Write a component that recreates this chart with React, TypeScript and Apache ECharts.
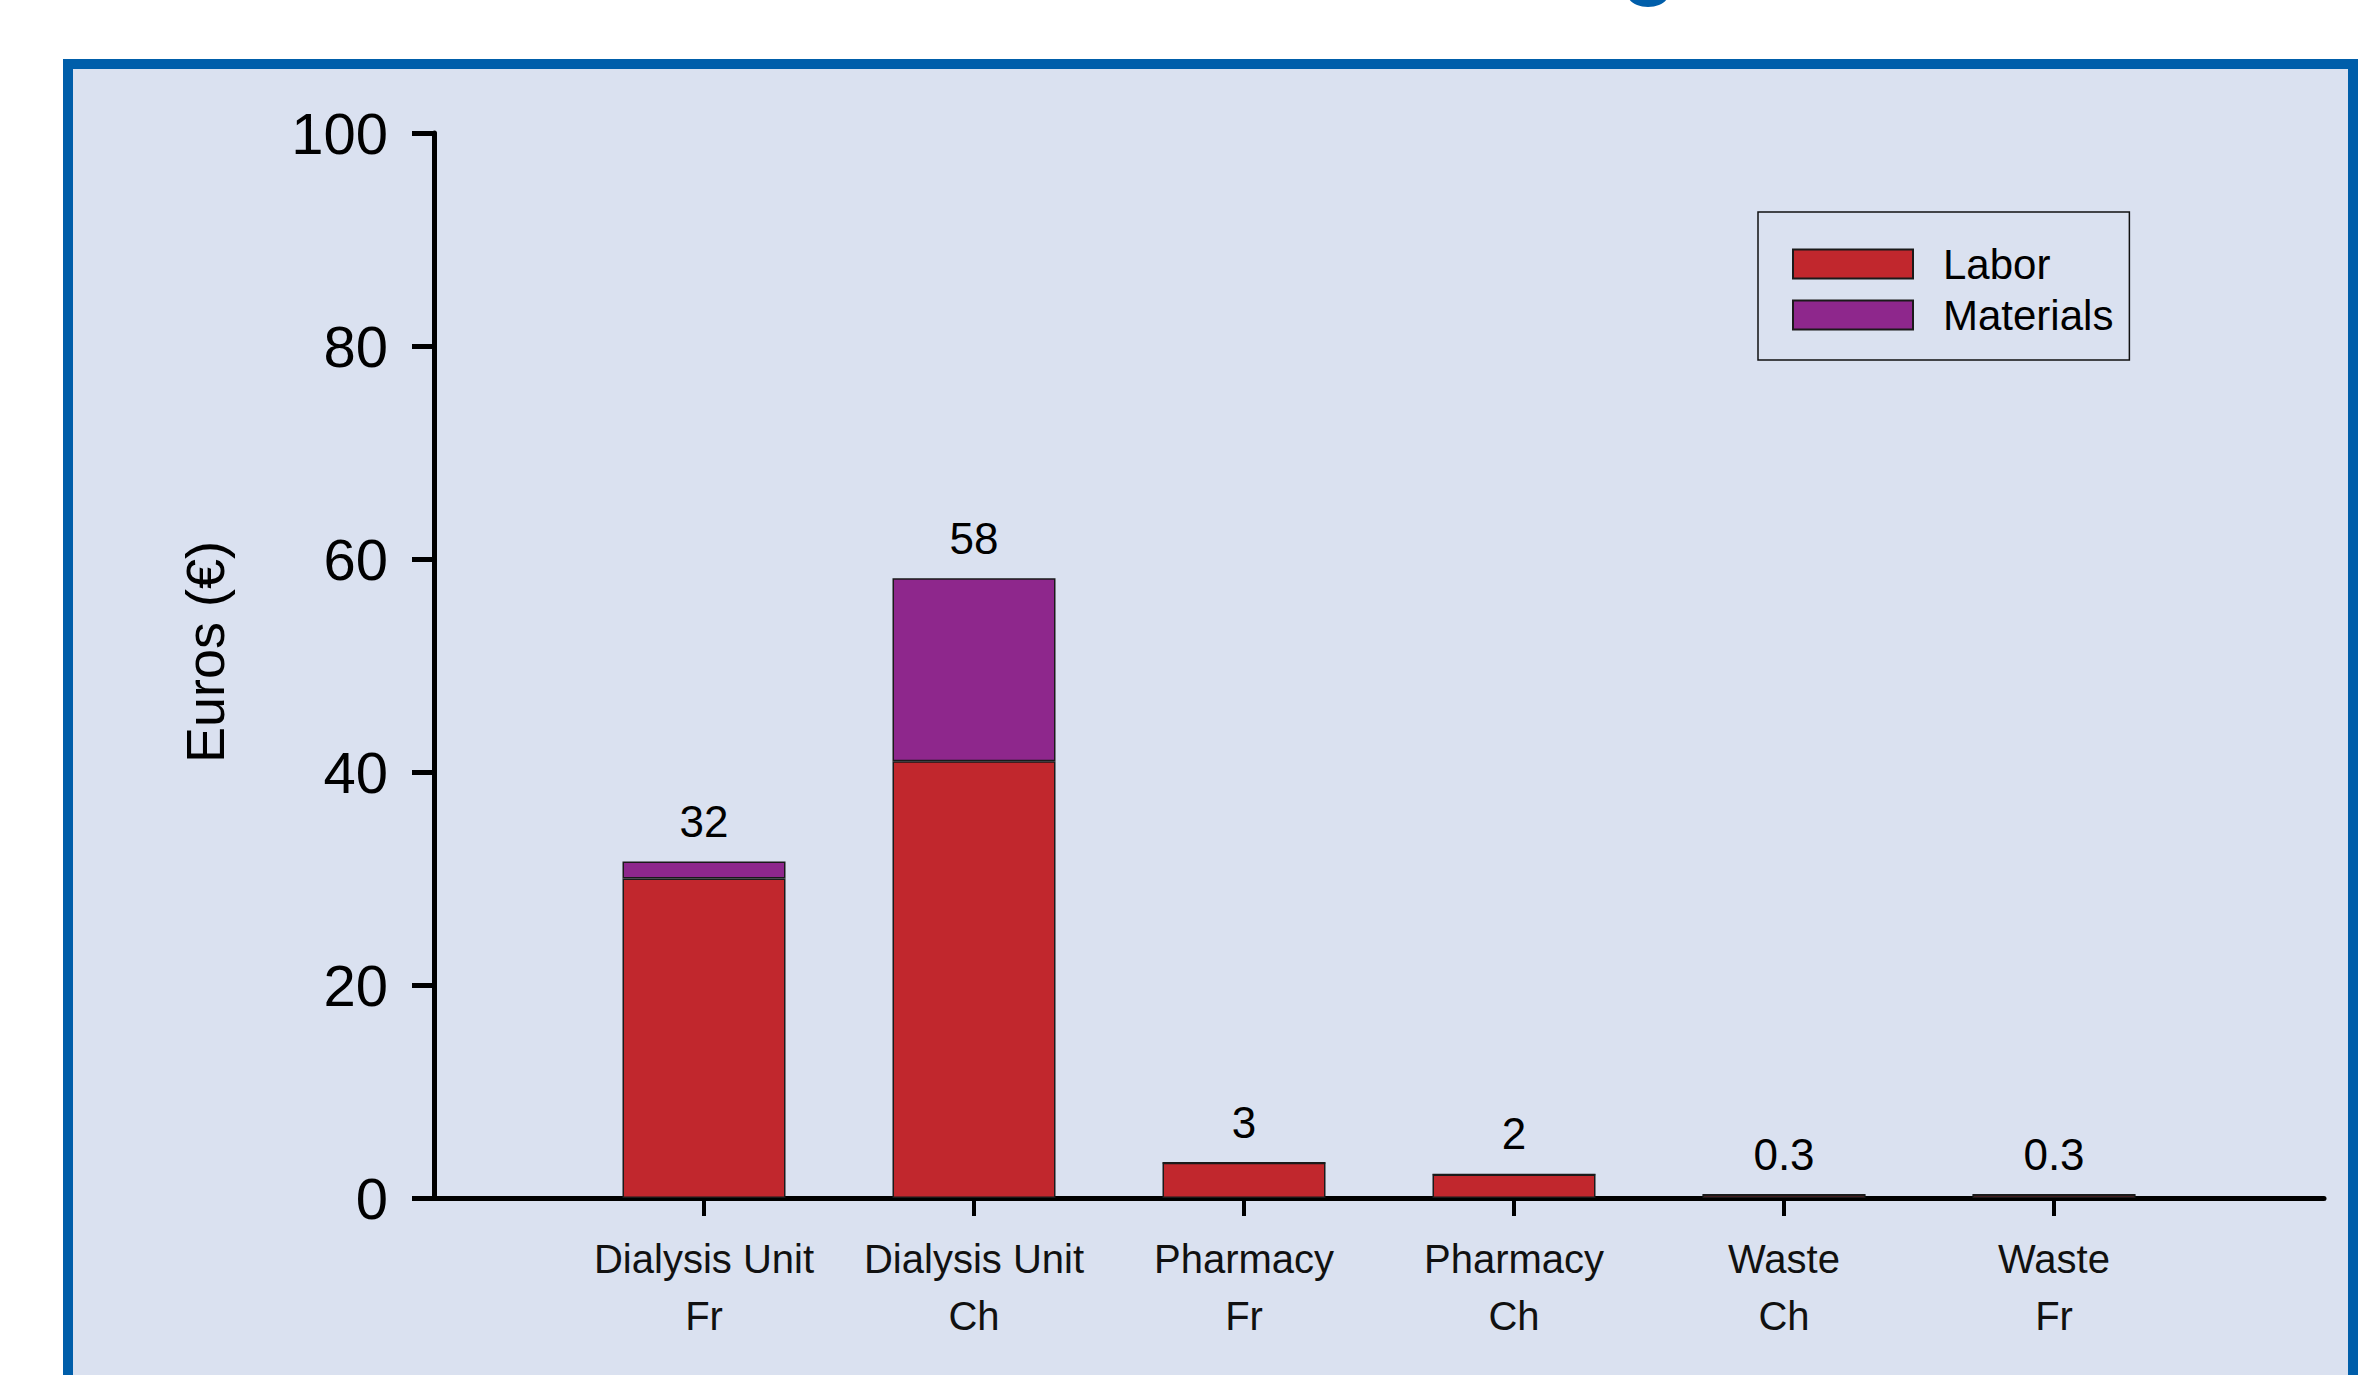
import React, { useEffect, useRef } from 'react';
import * as echarts from 'echarts';

const categories = ['Dialysis Unit\nFr', 'Dialysis Unit\nCh', 'Pharmacy\nFr', 'Pharmacy\nCh', 'Waste\nCh', 'Waste\nFr'];
const laborValues = [30, 41, 3.3, 2.2, 0.3, 0.3];
const materialsValues = [1.6, 17.2, 0, 0, 0, 0];
const totalLabels = ['32', '58', '3', '2', '0.3', '0.3'];
const seriesNames = ['Labor', 'Materials'];
const yAxisTitle = 'Euros (€)';

const FONT = "'Liberation Sans', Arial, sans-serif";
const RED = '#C1272D';
const PURPLE = '#8E278C';
const BLUE = '#005EAA';
const PANEL = '#DAE1F0';

export default function App() {
  const ref = useRef<HTMLDivElement>(null);
  useEffect(() => {
    document.body.style.margin = '0';
    const chart = echarts.init(ref.current!, null, { renderer: 'svg' });
    // one empty slot at each end so the axis runs half a gap past the outer bars
    const axisData = ['', ...categories, ''];
    const n = categories.length;
    chart.setOption({
      animation: false,
      backgroundColor: '#ffffff',
      textStyle: { fontFamily: FONT },
      graphic: [
        {
          type: 'rect',
          z: -100,
          silent: true,
          shape: { x: 68, y: 64, width: 2285, height: 1400 },
          style: { fill: PANEL, stroke: BLUE, lineWidth: 10 },
        },
        {
          type: 'ellipse',
          z: -50,
          silent: true,
          shape: { cx: 1648, cy: -5, rx: 20, ry: 12 },
          style: { fill: BLUE },
        },
        {
          type: 'text',
          x: 205,
          y: 652,
          rotation: Math.PI / 2,
          style: {
            text: yAxisTitle,
            fill: '#000',
            font: `54px ${FONT}`,
            align: 'center',
            verticalAlign: 'middle',
          },
        },
      ],
      legend: {
        left: 1758,
        top: 212,
        orient: 'vertical',
        data: seriesNames,
        icon: 'rect',
        itemWidth: 120,
        itemHeight: 29,
        itemGap: 9,
        padding: [31, 16, 24, 34],
        borderColor: '#111',
        borderWidth: 1.5,
        backgroundColor: 'transparent',
        textStyle: { fontSize: 42, lineHeight: 29, color: '#000', fontFamily: FONT, padding: [0, 0, 0, 25] },
      },
      grid: { left: 434, right: 38, top: 133, bottom: 177, containLabel: false },
      xAxis: {
        type: 'category',
        data: axisData,
        boundaryGap: false,
        splitLine: { show: false },
        axisLine: { show: true, onZero: true, lineStyle: { color: '#000', width: 5 } },
        axisTick: {
          show: true,
          interval: (idx: number) => idx > 0 && idx <= n,
          length: 18,
          lineStyle: { color: '#000', width: 4 },
        },
        axisLabel: {
          show: true,
          interval: 0,
          fontSize: 40,
          lineHeight: 57,
          color: '#111',
          margin: 32,
          fontFamily: FONT,
        },
      },
      yAxis: {
        type: 'value',
        min: 0,
        max: 100,
        interval: 20,
        splitLine: { show: false },
        axisLine: { show: true, lineStyle: { color: '#000', width: 5 } },
        axisTick: { show: true, length: 22, lineStyle: { color: '#000', width: 5 } },
        axisLabel: { fontSize: 58, color: '#000', margin: 46, fontFamily: FONT },
      },
      series: [
        {
          name: seriesNames[0],
          type: 'bar',
          stack: 'total',
          barWidth: 163,
          data: laborValues.map((v, i) => [i + 1, v]),
          itemStyle: { color: RED, borderColor: '#1a1a1a', borderWidth: 1.5 },
        },
        {
          name: seriesNames[1],
          type: 'bar',
          stack: 'total',
          barWidth: 163,
          data: materialsValues.map((v, i) => [i + 1, v]),
          itemStyle: { color: PURPLE, borderColor: '#1a1a1a', borderWidth: 1.5 },
          label: {
            show: true,
            position: 'top',
            distance: 18,
            fontSize: 44,
            color: '#000',
            fontFamily: FONT,
            formatter: (p: any) => totalLabels[p.dataIndex],
          },
        },
      ],
    });
    return () => chart.dispose();
  }, []);
  return <div ref={ref} style={{ position: 'absolute', left: 0, top: 0, width: 2362, height: 1375 }} />;
}
